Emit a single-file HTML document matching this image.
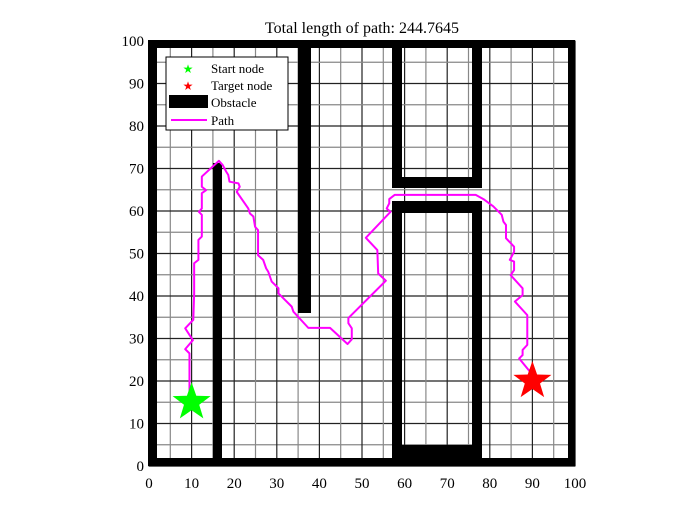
<!DOCTYPE html>
<html><head><meta charset="utf-8"><style>
body{margin:0;background:#fff;}
svg{display:block;font-family:"Liberation Serif",serif;}
</style></head><body>
<svg width="700" height="525" id="chart">
<rect width="700" height="525" fill="#fff"/>
<text x="362" y="33" font-size="16" text-anchor="middle">Total length of path: 244.7645</text>
<g id="grid"></g>
<g id="obs">
<rect x="148" y="40" width="427" height="8" fill="#000"/>
<rect x="148" y="458" width="427" height="8" fill="#000"/>
<rect x="148" y="40" width="9" height="426" fill="#000"/>
<rect x="568" y="40" width="7" height="426" fill="#000"/>
<rect x="213" y="163" width="9" height="300" fill="#000"/>
<rect x="298" y="40" width="13" height="273" fill="#000"/>
<rect x="392" y="40" width="10" height="148" fill="#000"/>
<rect x="472" y="40" width="10" height="148" fill="#000"/>
<rect x="392" y="177" width="90" height="11" fill="#000"/>
<rect x="392" y="201" width="90" height="12" fill="#000"/>
<rect x="392" y="201" width="10" height="264" fill="#000"/>
<rect x="472" y="201" width="10" height="264" fill="#000"/>
<rect x="392" y="445" width="90" height="20" fill="#000"/>
</g>
<rect x="149" y="41" width="426" height="425" fill="none" stroke="#000" stroke-width="1"/>
<g id="ticks"></g>
<polyline id="path" fill="none" stroke="#ff00ff" stroke-width="2" stroke-linejoin="round"/>
<g id="marks"></g>
<g>
<rect x="166" y="57" width="122" height="73" fill="#fff" stroke="#000" stroke-width="1"/>
<text x="188" y="73" font-size="12" fill="#00ff00" text-anchor="middle">★</text>
<text x="211" y="73" font-size="13">Start node</text>
<text x="188" y="90" font-size="12" fill="#ff0000" text-anchor="middle">★</text>
<text x="211" y="90" font-size="13">Target node</text>
<rect x="169" y="95" width="39" height="13" fill="#000"/>
<text x="211" y="107" font-size="13">Obstacle</text>
<line x1="171" y1="120" x2="207" y2="120" stroke="#ff00ff" stroke-width="2"/>
<text x="211" y="125" font-size="13">Path</text>
</g>
</svg>
<script>
const xTicks=[0,10,20,30,40,50,60,70,80,90,100];
const yTicks=[0,10,20,30,40,50,60,70,80,90,100];
const pathX=[9.5,9.5,8.5,10.3,8.5,10.4,10.6,10.6,11.6,11.6,12.4,12.4,11.7,12.4,12.4,13.4,12.4,12.4,16.4,17.3,18.1,18.6,18.9,21,21.3,20.6,23.3,23.7,24.5,24.9,25.6,25.6,26.8,27.5,28,28.8,30.4,30.4,33.5,33.9,37.4,42.5,46.6,47.6,47.6,46.8,46.8,55.6,53.8,53.6,50.9,56.7,55.8,56.4,56.4,57.7,76.7,78.5,80.8,82.8,83.2,83.8,83.8,85.7,85.7,84.7,85.7,85.7,84.9,87.7,87.7,85.9,88.8,88.8,87.7,87.7,86.9,90.4,89.8];
const pathY=[14.8,26.5,27.5,29.6,32.4,34.4,40.6,47.7,48.5,53.2,54,59.1,59.8,60.6,64.2,64.9,65.7,68.1,71.8,70.8,69.3,68.5,66.9,66.5,65.7,64.5,60.6,59.4,58.7,56.3,55.5,49.6,48.5,46.5,45.7,43.4,41.8,40.6,37.5,36.3,32.5,32.5,28.7,29.8,32.4,33.6,34.8,43.6,45.3,50.8,53.7,59.8,60.6,61.8,62.8,63.8,63.8,62.8,61.1,59.1,57.5,56.7,53.6,51.6,50.4,48.5,48.1,46.1,44.9,41.8,40.2,38.7,35.5,28.5,27.3,26.1,25.3,21,19.8];
const startNode=[10,15];
const targetNode=[90,20];
const NS="http://www.w3.org/2000/svg";
function sx(v){return 149+v*4.26;}
function sy(v){return 466-v*4.25;}
const grid=document.getElementById('grid');
for(let i=0;i<=100;i+=5){
  const c=(i%10===0)?'#222':'#888';
  const v=document.createElementNS(NS,'line');
  v.setAttribute('x1',sx(i));v.setAttribute('x2',sx(i));v.setAttribute('y1',sy(0));v.setAttribute('y2',sy(100));
  v.setAttribute('stroke',c);v.setAttribute('stroke-width','1.2');
  
  
  grid.appendChild(v);
  const h=document.createElementNS(NS,'line');
  h.setAttribute('y1',sy(i));h.setAttribute('y2',sy(i));h.setAttribute('x1',sx(0));h.setAttribute('x2',sx(100));
  h.setAttribute('stroke',c);h.setAttribute('stroke-width','1.2');
  
  
  grid.appendChild(h);
}
const ticks=document.getElementById('ticks');
xTicks.forEach(t=>{
  const tx=document.createElementNS(NS,'text');
  tx.setAttribute('x',sx(t));tx.setAttribute('y',sy(0)+22);tx.setAttribute('text-anchor','middle');tx.setAttribute('font-size','15');
  tx.textContent=t;
  
  
  ticks.appendChild(tx);
});
yTicks.forEach(t=>{
  const tx=document.createElementNS(NS,'text');
  tx.setAttribute('x',sx(0)-5);tx.setAttribute('y',sy(t)+5);tx.setAttribute('text-anchor','end');tx.setAttribute('font-size','15');
  tx.textContent=t;
  
  
  ticks.appendChild(tx);
});
const p=document.getElementById('path');
p.setAttribute('points',pathX.map((x,i)=>sx(x)+','+sy(pathY[i])).join(' '));
const marks=document.getElementById('marks');
function star(cx,cy,r,fill,name){
  const pts=[];
  for(let k=0;k<10;k++){
    const rr=k%2?r*0.4:r;
    const a=-Math.PI/2+k*Math.PI/5;
    pts.push((cx+rr*Math.cos(a))+','+(cy+rr*Math.sin(a)));
  }
  const s=document.createElementNS(NS,'polygon');
  s.setAttribute('points',pts.join(' '));s.setAttribute('fill',fill);
  
  
  marks.appendChild(s);
}
star(sx(startNode[0]),sy(startNode[1]),20,'#00ff00','start-node');
star(sx(targetNode[0]),sy(targetNode[1]),20,'#ff0000','target-node');
</script>
</body></html>
